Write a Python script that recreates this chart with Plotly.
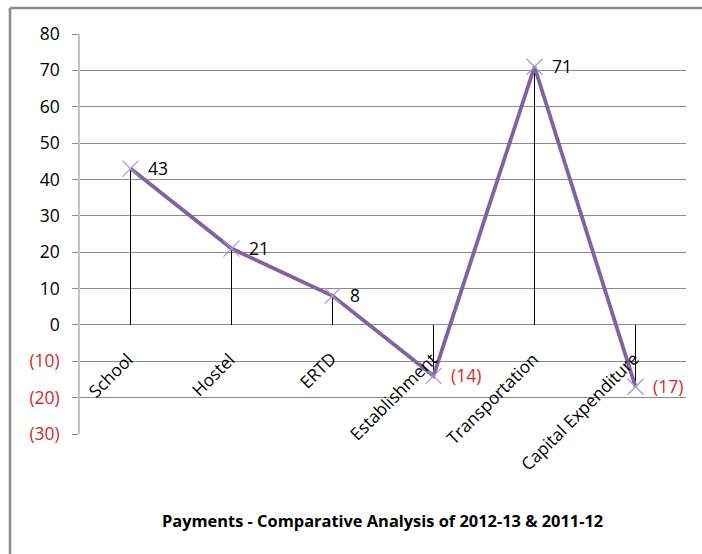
import plotly.graph_objects as go

# Payments: change between 2012-13 and 2011-12, by head of account
categories = ["School", "Hostel", "ERTD", "Establishment", "Transportation", "Capital Expenditure"]
values = [43, 21, 8, -14, 71, -17]

y_tick_values = [-30, -20, -10, 0, 10, 20, 30, 40, 50, 60, 70, 80]

FONT = "Open Sans, sans-serif"
NEG_RED = "#d42a2a"
LINE_PURPLE = "#7f63a1"
MARK_PURPLE = "#a996c8"
GRID = "#8a8a8a"

W, H = 702, 554
L, R, T, B = 80, 16, 34, 120
PW, PH = W - L - R, H - T - B


def fmt(v):
    return f"({abs(v)})" if v < 0 else f"{v}"


def tick_text(v):
    if v < 0:
        return f"<span style='color:{NEG_RED}'>{fmt(v)}</span>"
    return fmt(v)


xs = list(range(len(categories)))

# vertical drop lines from the zero line to each point
drop_x, drop_y = [], []
for x, v in zip(xs, values):
    drop_x += [x, x, None]
    drop_y += [0, v, None]

fig = go.Figure()
fig.add_trace(go.Scatter(
    x=drop_x, y=drop_y, mode="lines",
    line=dict(color="black", width=1), hoverinfo="skip", showlegend=False,
))
fig.add_trace(go.Scatter(
    x=xs, y=values, mode="lines+markers",
    line=dict(color=LINE_PURPLE, width=3.8),
    marker=dict(symbol="x-thin", size=16, line=dict(color=MARK_PURPLE, width=1.2)),
    showlegend=False,
))

annotations = []
# value labels beside each point
for x, v in zip(xs, values):
    annotations.append(dict(
        x=x, y=v, xref="x", yref="y", text=fmt(v), showarrow=False,
        xanchor="left", yanchor="middle", xshift=15, yshift=1,
        font=dict(family=FONT, size=17.5, color=NEG_RED if v < 0 else "black"),
    ))
# category labels, slanted, hanging below the zero line
for x, c in zip(xs, categories):
    annotations.append(dict(
        x=x, y=0, xref="x", yref="y", text=c, showarrow=False,
        textangle=-45, xanchor="right", yanchor="top", xshift=11, yshift=-20,
        font=dict(family=FONT, size=17.3, color="black"),
    ))
# chart title under the plot
annotations.append(dict(
    x=(382 - L) / PW, y=(T + PH - 520) / PH, xref="paper", yref="paper",
    text="<b>Payments - Comparative Analysis of 2012-13 & 2011-12</b>",
    showarrow=False, xanchor="center", yanchor="middle",
    font=dict(family=FONT, size=16.4, color="black"),
))

# outer frame (top and left edges visible)
fx0 = (10 - L) / PW
fy0 = 1 + (T - 8) / PH
shapes = [
    dict(type="line", xref="paper", yref="paper", x0=fx0, x1=1.2, y0=fy0, y1=fy0,
         line=dict(color="#8c8c8c", width=2.5)),
    dict(type="line", xref="paper", yref="paper", x0=fx0, x1=fx0, y0=fy0, y1=-0.4,
         line=dict(color="#8c8c8c", width=2.5)),
]

fig.update_layout(
    width=W, height=H,
    margin=dict(l=L, r=R, t=T, b=B),
    paper_bgcolor="white", plot_bgcolor="white",
    font=dict(family=FONT, size=17, color="black"),
    annotations=annotations, shapes=shapes,
    xaxis=dict(
        range=[-0.5, len(categories) - 0.5], showgrid=False, zeroline=False,
        showticklabels=False, showline=False, ticks="",
    ),
    yaxis=dict(
        range=[-30, 80], tickvals=y_tick_values,
        ticktext=[tick_text(v) for v in y_tick_values],
        showgrid=True, gridcolor=GRID, gridwidth=1,
        zeroline=True, zerolinecolor=GRID, zerolinewidth=1,
        showline=True, linecolor="#c4c4c4", linewidth=1.5,
        ticks="outside", ticklen=6, tickcolor=GRID, ticklabelstandoff=9,
        tickfont=dict(family=FONT, size=17.5),
    ),
)

fig.write_html("out.html")
